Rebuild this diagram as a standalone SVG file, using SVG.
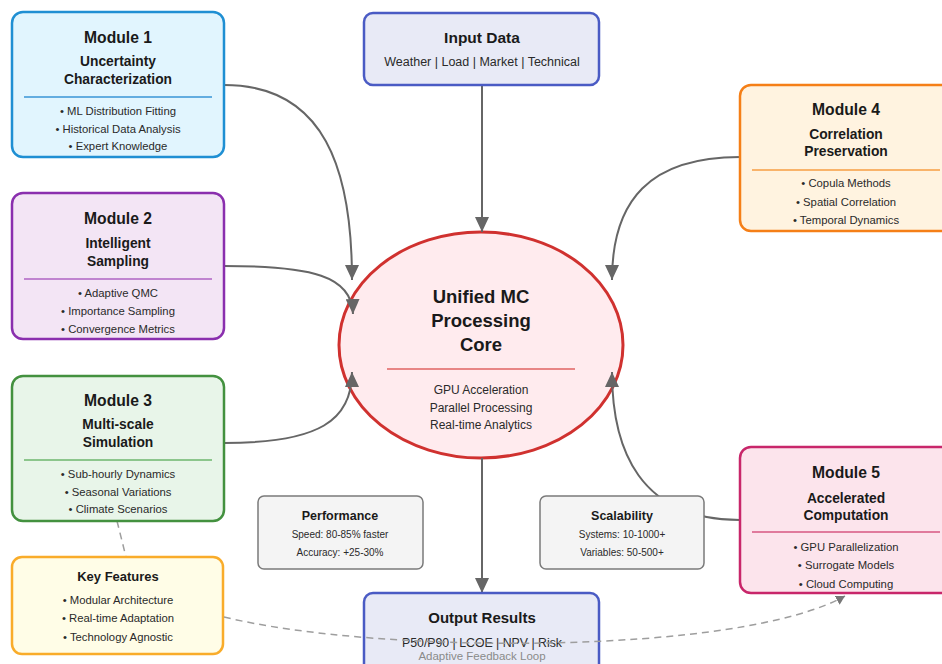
<svg xmlns="http://www.w3.org/2000/svg" width="942" height="664" viewBox="0 0 942 664">
<style>
text{font-family:"Liberation Sans",Arial,sans-serif;text-anchor:middle;fill:#1a1a1a}
.t{font-size:15.7px;font-weight:bold}
.s{font-size:13.8px;font-weight:bold}
.b{font-size:11.3px;fill:#2a2a2a}
.box{stroke-width:2.5}
.div{stroke-width:2}
.conn{fill:none;stroke:#666;stroke-width:2}
.dash{fill:none;stroke:#9e9e9e;stroke-width:1.5;stroke-dasharray:7,5}
.st{fill:#f4f4f4;stroke:#7a7a7a;stroke-width:1.5}
.stt{font-size:12.5px;font-weight:bold}
.stb{font-size:10px;fill:#2a2a2a}
</style>
<defs>
<marker id="ah" markerUnits="userSpaceOnUse" markerWidth="16" markerHeight="14" refX="15" refY="7" orient="auto">
<path d="M0,0 L15,7 L0,14 z" fill="#666"/>
</marker>
<marker id="ahs" markerUnits="userSpaceOnUse" markerWidth="10" markerHeight="10" refX="9" refY="5" orient="auto">
<path d="M0,0 L9,5 L0,10 z" fill="#777"/>
</marker>
</defs>
<rect width="942" height="664" fill="#fff"/>
<g id="core">
<ellipse cx="481" cy="345" rx="142" ry="113" fill="#ffebee" stroke="#d0312f" stroke-width="3"/>
<text x="481" y="303" style="font-size:18.5px;font-weight:bold">Unified MC</text>
<text x="481" y="327" style="font-size:18.5px;font-weight:bold">Processing</text>
<text x="481" y="351" style="font-size:18.5px;font-weight:bold">Core</text>
<line x1="387" y1="369" x2="575" y2="369" stroke="#e88585" stroke-width="2"/>
<text x="481" y="394" style="font-size:12px;fill:#2a2a2a">GPU Acceleration</text>
<text x="481" y="412" style="font-size:12px;fill:#2a2a2a">Parallel Processing</text>
<text x="481" y="429" style="font-size:12px;fill:#2a2a2a">Real-time Analytics</text>
</g>
<g id="connectors">
<path class="conn" d="M482,85 L482,232" marker-end="url(#ah)"/>
<path class="conn" d="M224,85 C325,85 352,170 352,280" marker-end="url(#ah)"/>
<path class="conn" d="M224,266 C312,266 352,276 353,314" marker-end="url(#ah)"/>
<path class="conn" d="M224,443 C320,443 352,420 352,372" marker-end="url(#ah)"/>
<path class="conn" d="M740,157 C650,157 612,200 612,280" marker-end="url(#ah)"/>
<path class="conn" d="M740,520 C640,520 612,450 612,372" marker-end="url(#ah)"/>
<path class="conn" d="M482,458 L482,593" marker-end="url(#ah)"/>
<path class="dash" d="M117,521 L126,557"/>
</g>
<g id="module1">
<rect class="box" x="12" y="12" width="212" height="145" rx="11" fill="#e1f5fe" stroke="#1f8fd3"/>
<text class="t" x="118" y="43">Module 1</text>
<text class="s" x="118" y="66">Uncertainty</text>
<text class="s" x="118" y="84">Characterization</text>
<line class="div" x1="24" y1="97" x2="212" y2="97" stroke="#63ade0"/>
<text class="b" x="118" y="115">• ML Distribution Fitting</text>
<text class="b" x="118" y="133">• Historical Data Analysis</text>
<text class="b" x="118" y="150">• Expert Knowledge</text>
</g>
<g id="module2">
<rect class="box" x="12" y="193" width="212" height="146" rx="11" fill="#f3e5f5" stroke="#8a2fae"/>
<text class="t" x="118" y="224">Module 2</text>
<text class="s" x="118" y="248">Intelligent</text>
<text class="s" x="118" y="266">Sampling</text>
<line class="div" x1="24" y1="279" x2="212" y2="279" stroke="#c084d0"/>
<text class="b" x="118" y="297">• Adaptive QMC</text>
<text class="b" x="118" y="315">• Importance Sampling</text>
<text class="b" x="118" y="333">• Convergence Metrics</text>
</g>
<g id="module3">
<rect class="box" x="12" y="376" width="212" height="145" rx="11" fill="#e8f5e9" stroke="#43913f"/>
<text class="t" x="118" y="406">Module 3</text>
<text class="s" x="118" y="429">Multi-scale</text>
<text class="s" x="118" y="447">Simulation</text>
<line class="div" x1="24" y1="460" x2="212" y2="460" stroke="#8cc68c"/>
<text class="b" x="118" y="478">• Sub-hourly Dynamics</text>
<text class="b" x="118" y="496">• Seasonal Variations</text>
<text class="b" x="118" y="513">• Climate Scenarios</text>
</g>
<g id="key-features">
<rect class="box" x="12" y="557" width="211" height="97" rx="10" fill="#fffde7" stroke="#f9ac2a"/>
<text x="118" y="581" style="font-size:13px;font-weight:bold">Key Features</text>
<text class="b" x="118" y="604">• Modular Architecture</text>
<text class="b" x="118" y="622">• Real-time Adaptation</text>
<text class="b" x="118" y="641">• Technology Agnostic</text>
</g>
<g id="input-data">
<rect class="box" x="364" y="13" width="235" height="72" rx="9" fill="#e8eaf6" stroke="#4a5bc4"/>
<text x="482" y="43" style="font-size:15.5px;font-weight:bold">Input Data</text>
<text x="482" y="66" style="font-size:12.5px;fill:#2a2a2a">Weather | Load | Market | Technical</text>
</g>
<g id="module4">
<rect class="box" x="740" y="85" width="212" height="146" rx="11" fill="#fff3e0" stroke="#f57f17"/>
<text class="t" x="846" y="115">Module 4</text>
<text class="s" x="846" y="139">Correlation</text>
<text class="s" x="846" y="156">Preservation</text>
<line class="div" x1="752" y1="170" x2="940" y2="170" stroke="#f9b36a"/>
<text class="b" x="846" y="187">• Copula Methods</text>
<text class="b" x="846" y="206">• Spatial Correlation</text>
<text class="b" x="846" y="224">• Temporal Dynamics</text>
</g>
<g id="module5">
<rect class="box" x="740" y="447" width="212" height="146" rx="11" fill="#fce4ec" stroke="#c8266a"/>
<text class="t" x="846" y="478">Module 5</text>
<text class="s" x="846" y="503">Accelerated</text>
<text class="s" x="846" y="520">Computation</text>
<line class="div" x1="752" y1="532" x2="940" y2="532" stroke="#e07a9c"/>
<text class="b" x="846" y="551">• GPU Parallelization</text>
<text class="b" x="846" y="569">• Surrogate Models</text>
<text class="b" x="846" y="588">• Cloud Computing</text>
</g>
<g id="performance">
<rect class="st" x="258" y="496" width="165" height="73" rx="6"/>
<text class="stt" x="340" y="520">Performance</text>
<text class="stb" x="340" y="538">Speed: 80-85% faster</text>
<text class="stb" x="340" y="556">Accuracy: +25-30%</text>
</g>
<g id="scalability">
<rect class="st" x="540" y="496" width="164" height="73" rx="6"/>
<text class="stt" x="622" y="520">Scalability</text>
<text class="stb" x="622" y="538">Systems: 10-1000+</text>
<text class="stb" x="622" y="556">Variables: 50-500+</text>
</g>
<g id="output-results">
<rect class="box" x="364" y="593" width="235" height="80" rx="9" fill="#e8eaf6" stroke="#4a5bc4"/>
<text x="482" y="623" style="font-size:15px;font-weight:bold">Output Results</text>
<text x="482" y="647" style="font-size:12.3px;fill:#2a2a2a">P50/P90 | LCOE | NPV | Risk</text>
</g>
<g id="feedback-loop">
<path class="dash" d="M224,617 C380,655 740,655 845,596" marker-end="url(#ahs)"/>
<text x="482" y="660" style="font-size:11.5px;fill:#8a8a8a">Adaptive Feedback Loop</text>
</g>
</svg>
